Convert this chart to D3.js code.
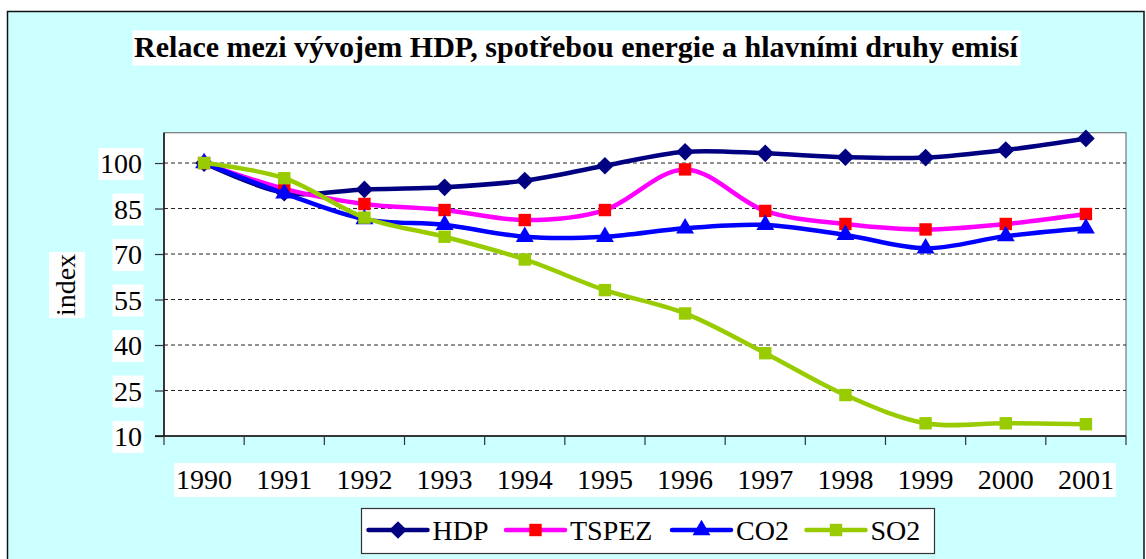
<!DOCTYPE html>
<html>
<head>
<meta charset="utf-8">
<script src="https://cdn.jsdelivr.net/npm/d3@7"></script>
<style>
  html, body { margin: 0; padding: 0; background: #fff; }
  svg { display: block; font-family: "Liberation Serif", "Times New Roman", serif; }
</style>
</head>
<body>
<svg id="chart"></svg>
<script>
const years = ['1990', '1991', '1992', '1993', '1994', '1995', '1996', '1997', '1998', '1999', '2000', '2001'];
const hdp   = [100, 90.2, 91.3, 92.0, 94.2, 99.1, 103.7, 103.2, 101.9, 101.8, 104.3, 108.1];
const tspez = [100, 91.5, 86.5, 84.5, 81.2, 84.5, 97.9, 84.2, 79.9, 78.1, 79.9, 83.2];
const co2   = [100, 90.0, 81.5, 79.6, 75.7, 75.7, 78.5, 79.6, 76.3, 71.9, 75.9, 78.5];
const so2   = [100, 95.0, 82.0, 75.7, 68.2, 58.1, 50.4, 37.3, 23.5, 14.2, 14.2, 13.9];
const yTicks = [10, 25, 40, 55, 70, 85, 100];

const title = 'Relace mezi vývojem HDP, spotřebou energie a hlavními druhy emisí';

const series = [
  { name: 'HDP',   values: hdp,   line: '#000080', fill: '#000080', shape: 'diamond' },
  { name: 'TSPEZ', values: tspez, line: '#FF00FF', fill: '#FF0000', shape: 'square' },
  { name: 'CO2',   values: co2,   line: '#0000FF', fill: '#0000FF', shape: 'triangle' },
  { name: 'SO2',   values: so2,   line: '#99CC00', fill: '#99CC00', shape: 'square' }
];

const width = 1146, height = 559;
const plot = { left: 164, right: 1126, top: 132.7, bottom: 436 };

const svg = d3.select('#chart')
  .attr('width', width)
  .attr('height', height)
  .attr('viewBox', [0, 0, width, height]);

// chart area
svg.append('rect')
  .attr('x', 7.5).attr('y', 11.5)
  .attr('width', 1136.5).attr('height', 570)
  .attr('fill', '#CCFFFF')
  .attr('stroke', '#111')
  .attr('stroke-width', 1.5);

const x = d3.scaleBand()
  .domain(years)
  .range([plot.left, plot.right]);

const y = d3.scaleLinear()
  .domain([10, 110])
  .range([plot.bottom, plot.top]);

const cx = d => x(d) + x.bandwidth() / 2;

// white box behind a text node
function backBox(textSel, padL, padR, padT, padB) {
  const node = textSel.node();
  const b = node.getBBox();
  d3.select(node.parentNode).insert('rect', () => node)
    .attr('transform', textSel.attr('transform'))
    .attr('x', b.x - padL).attr('y', b.y - padT)
    .attr('width', b.width + padL + padR).attr('height', b.height + padT + padB)
    .attr('fill', '#fff');
}

// title
const titleText = svg.append('text')
  .attr('x', 576).attr('y', 56.5)
  .attr('text-anchor', 'middle')
  .attr('font-size', 30)
  .attr('font-weight', 'bold')
  .attr('fill', '#000')
  .text(title);
backBox(titleText, 1.5, 2, -1, 3);

// plot background
svg.append('rect')
  .attr('x', plot.left).attr('y', plot.top)
  .attr('width', plot.right - plot.left).attr('height', plot.bottom - plot.top)
  .attr('fill', '#fff')
  .attr('stroke', '#777')
  .attr('stroke-width', 1.2);

// gridlines
svg.append('g')
  .selectAll('line')
  .data(yTicks.filter(t => t > 10))
  .join('line')
  .attr('x1', plot.left).attr('x2', plot.right)
  .attr('y1', d => y(d)).attr('y2', d => y(d))
  .attr('stroke', '#222')
  .attr('stroke-width', 1)
  .attr('stroke-dasharray', '4 3');

// y axis
const yAxis = svg.append('g')
  .attr('transform', `translate(${plot.left},0)`)
  .call(d3.axisLeft(y).tickValues(yTicks).tickSize(9).tickPadding(13).tickFormat(d3.format('d')));
yAxis.attr('font-family', null);
yAxis.select('.domain').attr('stroke', '#111').attr('stroke-width', 1.5)
  .attr('d', `M0,${plot.top}V${plot.bottom}`);
yAxis.selectAll('.tick line').attr('stroke', '#333').attr('stroke-width', 1.2);
yAxis.selectAll('.tick text')
  .attr('font-size', 28)
  .attr('fill', '#000')
  .attr('dy', '0.34em')
  .each(function () { backBox(d3.select(this), 1.5, 1.5, 0, 1); });

// x axis (labels centred, ticks on category boundaries)
const xAxis = svg.append('g')
  .attr('transform', `translate(0,${plot.bottom})`);
xAxis.append('line')
  .attr('x1', plot.left - 9).attr('x2', plot.right)
  .attr('stroke', '#111').attr('stroke-width', 1.5);
xAxis.selectAll('.xtick')
  .data(years.concat(['end']))
  .join('line')
  .attr('class', 'xtick')
  .attr('x1', d => d === 'end' ? plot.right : x(d))
  .attr('x2', d => d === 'end' ? plot.right : x(d))
  .attr('y1', 0).attr('y2', 9)
  .attr('stroke', '#333').attr('stroke-width', 1.2);
xAxis.append('rect')
  .attr('x', cx(years[0]) - 30).attr('y', 27)
  .attr('width', cx(years[years.length - 1]) + 30 - (cx(years[0]) - 30)).attr('height', 34)
  .attr('fill', '#fff');
xAxis.selectAll('.xlabel')
  .data(years)
  .join('text')
  .attr('class', 'xlabel')
  .attr('x', d => cx(d)).attr('y', 53)
  .attr('text-anchor', 'middle')
  .attr('font-size', 28)
  .attr('fill', '#000')
  .text(d => d);

// y axis title
const yTitle = svg.append('text')
  .attr('transform', 'translate(75,285) rotate(-90)')
  .attr('text-anchor', 'middle')
  .attr('font-size', 28)
  .attr('fill', '#000')
  .text('index');
backBox(yTitle, 2, 2, 1, 4);

// series
const line = d3.line()
  .x(d => cx(d.year))
  .y(d => y(d.value))
  .curve(d3.curveCardinal.tension(0));

const symbolFor = shape => {
  if (shape === 'diamond') return d3.symbol().type(d3.symbolDiamond2).size(200);
  if (shape === 'triangle') return d3.symbol().type(d3.symbolTriangle2).size(230);
  return d3.symbol().type(d3.symbolSquare2).size(196);
};

series.forEach(s => {
  const pts = years.map((yr, i) => ({ year: yr, value: s.values[i] }));
  const g = svg.append('g');
  g.append('path')
    .datum(pts)
    .attr('fill', 'none')
    .attr('stroke', s.line)
    .attr('stroke-width', 4.5)
    .attr('stroke-linejoin', 'round')
    .attr('d', line);
  g.selectAll('path.mk')
    .data(pts)
    .join('path')
    .attr('class', 'mk')
    .attr('transform', d => `translate(${cx(d.year)},${y(d.value)})`)
    .attr('d', symbolFor(s.shape)())
    .attr('fill', s.fill);
});

// legend
const legend = svg.append('g');
legend.append('rect')
  .attr('x', 361.5).attr('y', 508.5)
  .attr('width', 573).attr('height', 45)
  .attr('fill', '#fff')
  .attr('stroke', '#333')
  .attr('stroke-width', 1.2);
const legendX = [368.5, 506, 672, 806.5];
series.forEach((s, i) => {
  const lx = legendX[i];
  legend.append('line')
    .attr('x1', lx).attr('x2', lx + 59)
    .attr('y1', 530).attr('y2', 530)
    .attr('stroke', s.line)
    .attr('stroke-width', 4.5)
    .attr('stroke-linecap', 'round');
  legend.append('path')
    .attr('transform', `translate(${lx + 29.5},530)`)
    .attr('d', symbolFor(s.shape)())
    .attr('fill', s.fill);
  legend.append('text')
    .attr('x', lx + 64).attr('y', 540)
    .attr('font-size', 28)
    .attr('fill', '#000')
    .text(s.name);
});
</script>
</body>
</html>
